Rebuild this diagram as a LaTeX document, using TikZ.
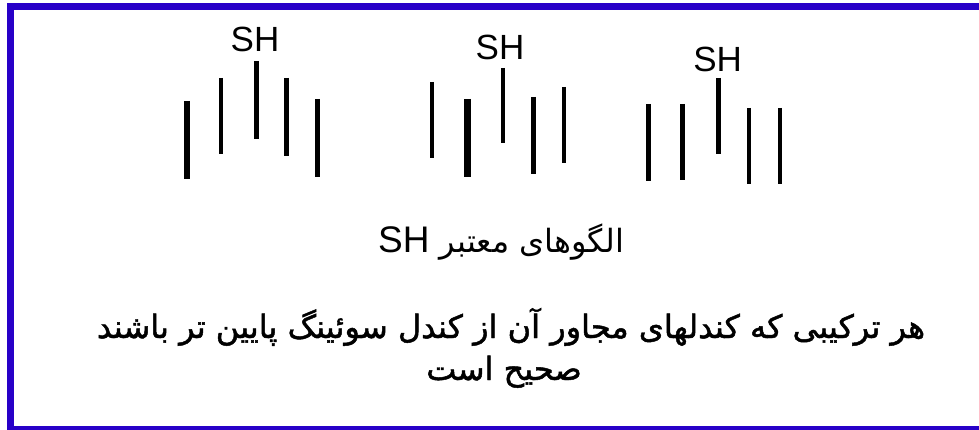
\documentclass[tikz,border=0pt]{standalone}
\usepackage{fontspec}
\setmainfont{Liberation Sans}
\newfontfamily\fafont[Script=Arabic]{DejaVu Sans}
\newfontfamily\fafontheavy[Script=Arabic,FakeBold=1.5]{DejaVu Sans}
\TeXXeTstate=1
\definecolor{frameblue}{RGB}{40,0,200}
\tikzset{
  bar/.style={line width=#1, line cap=butt, black},
  bar/.default=4.5pt,
  shlabel/.style={font=\fontsize{35}{40}\selectfont, inner sep=0pt, anchor=base},
  fatext/.style={font=\fontsize{32}{38}\fafont, inner sep=0pt, anchor=base},
  faheavy/.style={font=\fontsize{32}{38}\fafontheavy, inner sep=0pt, anchor=base}
}
\begin{document}
\begin{tikzpicture}[x=1pt,y=-1pt]
\useasboundingbox (0,0) rectangle (979,430);
% frame (left, top, bottom)
\fill[frameblue] (7,3) rectangle (979,10);
\fill[frameblue] (7,3) rectangle (14,430);
\fill[frameblue] (7,426) rectangle (979,430);
% group 1
\node[shlabel] (sh1) at (255,52) {SH};
\draw[bar=6pt] (186.7,101) -- (186.7,179);
\draw[bar=4pt] (220.7,78) -- (220.7,154);
\draw[bar=5pt] (256.7,61) -- (256.7,139);
\draw[bar=5pt] (286.7,78) -- (286.7,156);
\draw[bar=5pt] (317.3,99) -- (317.3,177);
% group 2
\node[shlabel] (sh2) at (500,60) {SH};
\draw[bar=4pt] (432.3,82) -- (432.3,158);
\draw[bar=7pt] (467.3,99) -- (467.3,177);
\draw[bar=4pt] (503.3,68) -- (503.3,143);
\draw[bar=4.5pt] (533.3,97) -- (533.3,174);
\draw[bar=4pt] (564,87) -- (564,163);
% group 3
\node[shlabel] (sh3) at (717.7,72) {SH};
\draw[bar] (648.3,104) -- (648.3,181);
\draw[bar] (682.3,104) -- (682.3,180);
\draw[bar] (718.3,78) -- (718.3,154);
\draw[bar] (749,108) -- (749,184);
\draw[bar] (780,108) -- (780,184);
% texts
\node[fatext] (title) at (501,252) {\beginR الگوهای معتبر \beginL{\fontsize{37}{40}\rmfamily SH}\endL\endR};
\node[faheavy] (line1) at (511,338) {\beginR هر ترکیبی که کندلهای مجاور آن از کندل سوئینگ پایین تر باشند\endR};
\node[faheavy] (line2) at (504,380) {\beginR صحیح است\endR};
\end{tikzpicture}
\end{document}
